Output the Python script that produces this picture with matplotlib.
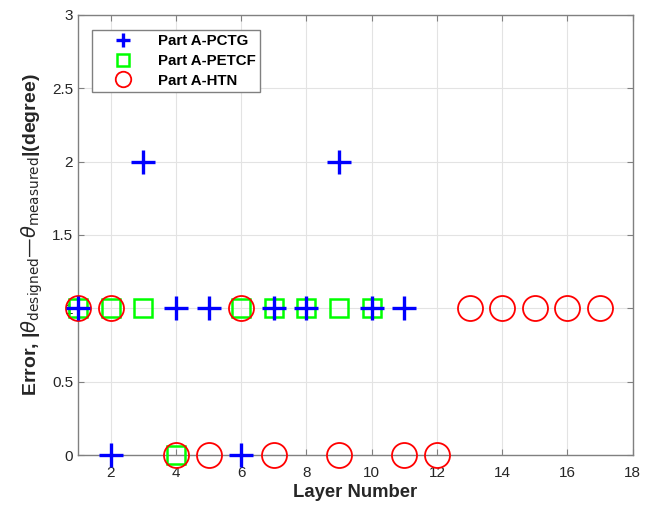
import matplotlib
matplotlib.use("Agg")
import matplotlib.pyplot as plt

plt.rcParams['font.family'] = ['Liberation Sans', 'DejaVu Sans']
plt.rcParams['mathtext.fontset'] = 'dejavusans'

pctg_x = [1, 2, 3, 4, 5, 6, 7, 8, 9, 10, 11]
pctg_y = [1, 0, 2, 1, 1, 0, 1, 1, 2, 1, 1]
petcf_x = [1, 2, 3, 4, 6, 7, 8, 9, 10]
petcf_y = [1, 1, 1, 0, 1, 1, 1, 1, 1]
htn_x = [1, 2, 4, 5, 6, 7, 9, 11, 12, 13, 14, 15, 16, 17]
htn_y = [1, 1, 0, 0, 1, 0, 0, 0, 0, 1, 1, 1, 1, 1]

xticks = [2, 4, 6, 8, 10, 12, 14, 16, 18]
yticks = [0, 0.5, 1, 1.5, 2, 2.5, 3]
ytick_labels = ['0', '0.5', '1', '1.5', '2', '2.5', '3']

fig = plt.figure(figsize=(6.45, 5.13), dpi=100)
ax = fig.add_axes([0.121, 0.113, 0.860, 0.858])

h1, = ax.plot(pctg_x, pctg_y, linestyle='none', marker='+', color=(0, 0, 1),
              markersize=17, markeredgewidth=2.4, clip_on=False, zorder=3.2,
              label='Part A-PCTG')
h2, = ax.plot(petcf_x, petcf_y, linestyle='none', marker='s', markerfacecolor='none',
              markeredgecolor=(0, 1, 0), markersize=13.5, markeredgewidth=1.8,
              clip_on=False, zorder=3.0, label='Part A-PETCF')
h3, = ax.plot(htn_x, htn_y, linestyle='none', marker='o', markerfacecolor='none',
              markeredgecolor=(1, 0, 0), markersize=18, markeredgewidth=1.3,
              clip_on=False, zorder=3.1, label='Part A-HTN')

ax.set_xlim(1, 18)
ax.set_ylim(0, 3)
ax.set_xticks(xticks)
ax.set_yticks(yticks)
ax.set_yticklabels(ytick_labels)
ax.grid(True, color='#e3e3e3', linewidth=0.8)
ax.set_axisbelow(True)
for s in ax.spines.values():
    s.set_color('#808080')
    s.set_linewidth(1.0)
ax.tick_params(direction='in', top=True, right=True, length=4, color='#808080',
               labelcolor='#262626', labelsize=11)
ax.tick_params(axis='x', pad=8)

ax.set_xlabel('Layer Number', fontsize=13.3, fontweight='bold', color='#262626', labelpad=3)
ax.set_ylabel(r'Error, |$\theta_{\mathrm{designed}}$' + '\u2014' + r'$\theta_{\mathrm{measured}}$|(degree)',
              fontsize=14, fontweight='bold', color='#262626', labelpad=5)

leg = ax.legend(handles=[h1, h2, h3], loc='upper left', bbox_to_anchor=(0.025, 0.966),
                borderaxespad=0, fancybox=False, framealpha=1, edgecolor='#808080',
                prop={'weight': 'bold', 'size': 10.8}, handlelength=3.6,
                handletextpad=0.48, markerscale=0.62, labelspacing=0.38,
                borderpad=0.3)
leg.get_frame().set_linewidth(1.0)
leg.set_zorder(5)

fig.savefig('out.png', dpi=100)
